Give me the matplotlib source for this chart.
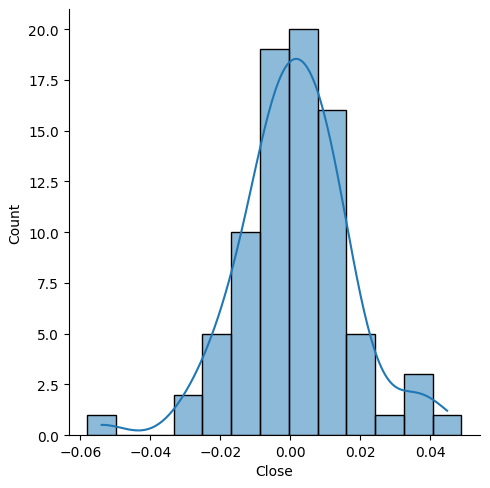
import matplotlib
matplotlib.use("Agg")
import matplotlib.pyplot as plt
import seaborn as sns
import numpy as np

# histogram
lo, hi = -0.058, 0.049
counts = [1, 0, 0, 2, 5, 10, 19, 20, 16, 5, 1, 3, 1]

edges = np.linspace(lo, hi, len(counts) + 1)
centers = (edges[:-1] + edges[1:]) / 2
close = np.repeat(centers, counts)

fig, ax = plt.subplots(figsize=(4.9, 4.89), dpi=100)
sns.histplot(x=close, bins=edges, kde=True, ax=ax)
ax.set_xlabel("Close")
ax.set_ylabel("Count")
ax.set_ylim(0, 21)
sns.despine(ax=ax)
fig.subplots_adjust(left=0.14, right=0.98, top=0.98, bottom=0.108)
fig.savefig("out.png")
